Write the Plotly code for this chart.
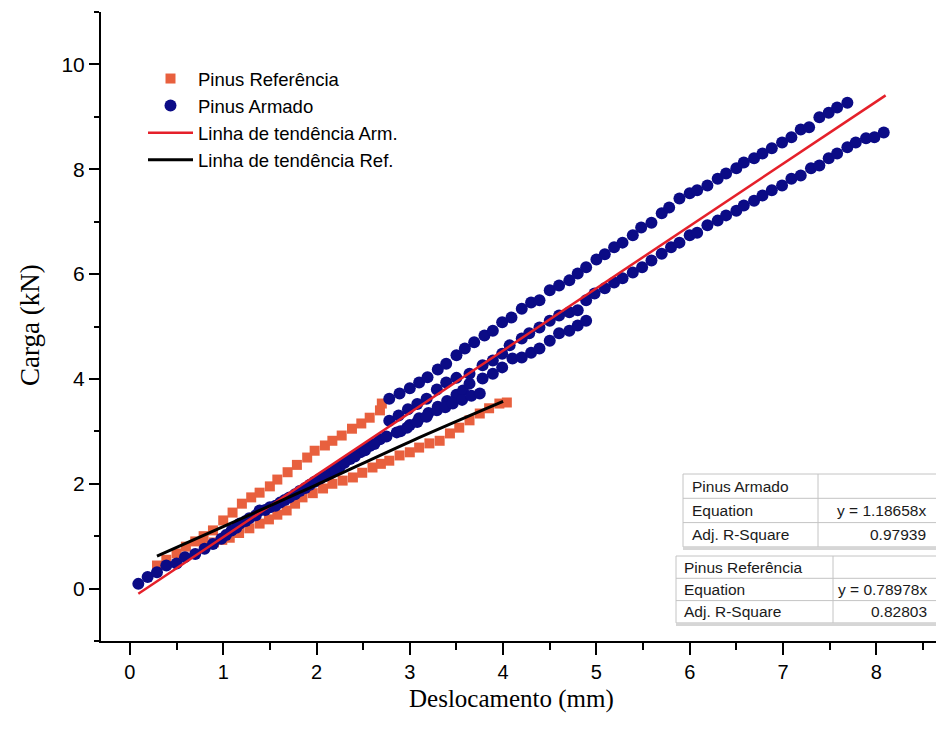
import plotly.graph_objects as go

# ---------------- data ----------------
# Pinus Referência (orange squares) - two loading branches
ref_up_x = [0.29, 0.39, 0.50, 0.60, 0.70, 0.79, 0.89, 1.00, 1.10, 1.20, 1.30, 1.39, 1.50, 1.58,
            1.69, 1.79, 1.90, 1.98, 2.09, 2.17, 2.27, 2.38, 2.48, 2.57, 2.68, 2.70]
ref_up_y = [0.44, 0.55, 0.67, 0.80, 0.90, 1.00, 1.11, 1.30, 1.45, 1.62, 1.74, 1.83, 1.95, 2.08,
            2.22, 2.36, 2.50, 2.63, 2.73, 2.82, 2.92, 3.05, 3.15, 3.26, 3.40, 3.53]
ref_lo_x = [0.80, 0.90, 0.99, 1.07, 1.17, 1.28, 1.39, 1.49, 1.58, 1.68, 1.77, 1.85, 1.96, 2.07,
            2.17, 2.28, 2.39, 2.49, 2.60, 2.69, 2.78, 2.89, 3.00, 3.10, 3.21, 3.32, 3.43, 3.53,
            3.64, 3.75, 3.85, 3.96, 4.04]
ref_lo_y = [0.82, 0.88, 0.93, 0.97, 1.06, 1.15, 1.24, 1.32, 1.41, 1.49, 1.62, 1.74, 1.82, 1.91,
            2.00, 2.06, 2.12, 2.21, 2.31, 2.38, 2.44, 2.54, 2.60, 2.69, 2.77, 2.82, 2.96, 3.07,
            3.21, 3.34, 3.44, 3.53, 3.55]

# Pinus Armado (navy circles) - several branches
arm_a_x = [0.09, 0.19, 0.29, 0.39, 0.50, 0.59, 0.70, 0.80, 0.89, 0.98, 1.09, 1.18, 1.28, 1.39,
           1.50, 1.61, 1.71, 1.82, 1.93, 2.04, 2.15, 2.25, 2.36, 2.47, 2.57, 2.68]
arm_a_y = [0.09, 0.22, 0.31, 0.44, 0.48, 0.60, 0.66, 0.76, 0.85, 0.95, 1.11, 1.24, 1.34, 1.49,
           1.55, 1.64, 1.74, 1.86, 1.98, 2.10, 2.20, 2.33, 2.47, 2.60, 2.72, 2.85]
arm_a2_x = [1.03, 1.14, 1.24, 1.35, 1.45, 1.56, 1.66, 1.77, 1.88, 1.98, 2.09, 2.20, 2.30, 2.41,
            2.52, 2.62]
arm_a2_y = [1.02, 1.16, 1.29, 1.40, 1.50, 1.58, 1.69, 1.80, 1.92, 2.04, 2.15, 2.27, 2.40, 2.52,
            2.64, 2.76]
arm_b_x = [2.78, 2.89, 3.00, 3.10, 3.19, 3.30, 3.39, 3.50, 3.59, 3.69, 3.80, 3.89, 3.99, 4.09,
           4.20, 4.30, 4.39, 4.50, 4.60, 4.71, 4.80, 4.89, 5.00, 5.09, 5.19, 5.28, 5.39, 5.48,
           5.59, 5.70, 5.78, 5.89, 6.00, 6.08, 6.19, 6.30, 6.39, 6.50, 6.58, 6.69, 6.78, 6.88,
           6.99, 7.09, 7.19, 7.28, 7.39, 7.49, 7.58, 7.69]
arm_b_y = [3.62, 3.72, 3.82, 3.93, 4.03, 4.18, 4.29, 4.45, 4.58, 4.70, 4.83, 4.92, 5.08, 5.17,
           5.34, 5.46, 5.50, 5.69, 5.78, 5.88, 6.01, 6.13, 6.28, 6.38, 6.51, 6.60, 6.74, 6.89,
           6.98, 7.16, 7.27, 7.44, 7.54, 7.60, 7.69, 7.82, 7.92, 8.02, 8.13, 8.21, 8.30, 8.40,
           8.51, 8.61, 8.76, 8.80, 8.99, 9.08, 9.18, 9.27]
arm_c_x = [2.78, 2.88, 2.98, 3.08, 3.18, 3.29, 3.39, 3.50, 3.64, 3.78, 3.89, 3.99, 4.07, 4.20,
           4.28, 4.39, 4.50, 4.60, 4.71, 4.80, 4.89, 4.98, 5.09, 5.19, 5.28, 5.39, 5.49, 5.59,
           5.70, 5.80, 5.89, 6.00, 6.08, 6.19, 6.30, 6.39, 6.50, 6.58, 6.69, 6.78, 6.88, 6.99,
           7.09, 7.19, 7.30, 7.39, 7.49, 7.58, 7.69, 7.78, 7.89, 7.98, 8.08]
arm_c_y = [3.20, 3.30, 3.42, 3.52, 3.62, 3.80, 3.93, 4.02, 4.10, 4.26, 4.35, 4.48, 4.64, 4.77,
           4.87, 4.98, 5.11, 5.21, 5.27, 5.31, 5.50, 5.63, 5.73, 5.84, 5.92, 6.03, 6.13, 6.26,
           6.39, 6.51, 6.60, 6.74, 6.79, 6.93, 7.02, 7.12, 7.21, 7.31, 7.40, 7.50, 7.60, 7.69,
           7.82, 7.88, 8.02, 8.07, 8.21, 8.30, 8.42, 8.51, 8.59, 8.61, 8.70]
arm_d_x = [2.90, 3.00, 3.10, 3.20, 3.30, 3.40, 3.50, 3.57, 3.64, 3.78, 3.89, 3.99, 4.10, 4.20,
           4.30, 4.39, 4.50, 4.60, 4.71, 4.80, 4.89]
arm_d_y = [3.00, 3.12, 3.25, 3.35, 3.47, 3.58, 3.70, 3.78, 3.91, 4.01, 4.10, 4.22, 4.39, 4.41,
           4.50, 4.58, 4.73, 4.87, 4.92, 5.02, 5.11]
arm_e_x = [2.75, 2.86, 2.97, 3.08, 3.18, 3.29, 3.38, 3.46, 3.56, 3.66, 3.75]
arm_e_y = [2.90, 2.98, 3.07, 3.18, 3.28, 3.40, 3.46, 3.53, 3.60, 3.68, 3.72]

# trend lines (end points as drawn)
trend_arm_x = [0.09, 8.10]
trend_arm_y = [-0.10, 9.41]
trend_ref_x = [0.29, 1.00, 2.00, 3.00, 4.00]
trend_ref_y = [0.62, 1.18, 1.98, 2.80, 3.57]

x_ticks = [0, 1, 2, 3, 4, 5, 6, 7, 8]
y_ticks = [0, 2, 4, 6, 8, 10]

tab_arm = [["Pinus Armado", ""], ["Equation", "y = 1.18658x"], ["Adj. R-Square", "0.97939"]]
tab_ref = [["Pinus Referência", ""], ["Equation", "y = 0.78978x"], ["Adj. R-Square", "0.82803"]]

# ---------------- figure ----------------
W, H = 936, 733
L, R, T, B = 101, 0, 12, 92

def xp(px):
    return (px - L) / (W - L - R)

def yp(py):
    return (H - B - py) / (H - T - B)

ref_x = ref_up_x + ref_lo_x
ref_y = ref_up_y + ref_lo_y
arm_x = arm_a_x + arm_a2_x + arm_b_x + arm_c_x + arm_d_x + arm_e_x
arm_y = arm_a_y + arm_a2_y + arm_b_y + arm_c_y + arm_d_y + arm_e_y

fig = go.Figure()
fig.add_trace(go.Scatter(x=ref_x, y=ref_y, mode="markers", name="Pinus Referência",
                         marker=dict(symbol="square", size=10, color="#E8603E", line=dict(width=0))))
fig.add_trace(go.Scatter(x=arm_x, y=arm_y, mode="markers", name="Pinus Armado",
                         marker=dict(symbol="circle", size=12, color="#0B0B86", line=dict(width=0))))
fig.add_trace(go.Scatter(x=trend_arm_x, y=trend_arm_y, mode="lines", name="Linha de tendência Arm.",
                         line=dict(color="#E5202A", width=2.5)))
fig.add_trace(go.Scatter(x=trend_ref_x, y=trend_ref_y, mode="lines", name="Linha de tendência Ref.",
                         line=dict(color="black", width=3, shape="spline")))

xfont = dict(family="Liberation Sans, Arial", size=20, color="black")
yfont = dict(family="Liberation Sans, Arial", size=21, color="black")
fig.update_xaxes(range=[-0.31, 8.64], showline=True, linewidth=2, linecolor="black",
                 ticks="outside", ticklen=12, tickwidth=2, tickcolor="black",
                 tickvals=x_ticks, ticktext=[str(v) for v in x_ticks],
                 minor=dict(ticks="outside", ticklen=7, tickwidth=2, tickcolor="black", dtick=0.5, tick0=0),
                 showgrid=False, zeroline=False, tickfont=xfont, mirror=False)
fig.update_yaxes(range=[-1, 11], showline=True, linewidth=2, linecolor="black",
                 ticks="outside", ticklen=10, tickwidth=2, tickcolor="black",
                 tickvals=y_ticks, ticktext=[str(v) for v in y_ticks],
                 minor=dict(ticks="outside", ticklen=5, tickwidth=2, tickcolor="black", dtick=1, tick0=0),
                 showgrid=False, zeroline=False, tickfont=yfont, mirror=False)

shapes = []
annotations = []

def add_table(rows, left, right, top, row_h, col_x, text_left, text_right):
    bottom = top + row_h * len(rows)
    shapes.append(dict(type="rect", xref="paper", yref="paper", x0=xp(left), x1=xp(right),
                       y0=yp(bottom), y1=yp(top), fillcolor="white",
                       line=dict(color="#C4C4C4", width=1), layer="above"))
    shapes.append(dict(type="line", xref="paper", yref="paper", x0=xp(left), x1=xp(right),
                       y0=yp(bottom + 1.5), y1=yp(bottom + 1.5),
                       line=dict(color="#D6D6D6", width=3), layer="above"))
    for i in range(1, len(rows)):
        yy = top + row_h * i
        shapes.append(dict(type="line", xref="paper", yref="paper", x0=xp(left), x1=xp(right),
                           y0=yp(yy), y1=yp(yy), line=dict(color="#C4C4C4", width=1), layer="above"))
    shapes.append(dict(type="line", xref="paper", yref="paper", x0=xp(col_x), x1=xp(col_x),
                       y0=yp(bottom), y1=yp(top), line=dict(color="#C4C4C4", width=1), layer="above"))
    for i, (a, b) in enumerate(rows):
        yc = top + row_h * (i + 0.5)
        annotations.append(dict(text=a, xref="paper", yref="paper", x=xp(text_left), y=yp(yc),
                                xanchor="left", yanchor="middle", showarrow=False,
                                font=dict(family="Liberation Sans, Arial", size=15.5, color="#1A1A1A")))
        if b:
            annotations.append(dict(text=b, xref="paper", yref="paper", x=xp(text_right), y=yp(yc),
                                    xanchor="right", yanchor="middle", showarrow=False,
                                    font=dict(family="Liberation Sans, Arial", size=15.5, color="#1A1A1A")))

add_table(tab_arm, 683, 945, 474, 24.3, 818, 690, 928)
add_table(tab_ref, 676, 945, 556, 22.3, 833, 682, 929)

annotations.append(dict(text="Carga (kN)", xref="paper", yref="paper", x=xp(30), y=yp(325),
                        xanchor="center", yanchor="middle", showarrow=False, textangle=-90,
                        font=dict(family="Liberation Serif, Times New Roman", size=27, color="black")))
annotations.append(dict(text="Deslocamento (mm)", xref="paper", yref="paper", x=xp(511), y=yp(699),
                        xanchor="center", yanchor="middle", showarrow=False,
                        font=dict(family="Liberation Serif, Times New Roman", size=25, color="black")))

fig.update_layout(
    width=W, height=H,
    margin=dict(l=L, r=R, t=T, b=B, pad=0),
    paper_bgcolor="white", plot_bgcolor="white",
    showlegend=True,
    legend=dict(x=xp(143), y=yp(60), xanchor="left", yanchor="top",
                bgcolor="rgba(0,0,0,0)", borderwidth=0,
                font=dict(family="Liberation Sans, Arial", size=18.5, color="black"),
                tracegroupgap=0, itemsizing="trace", itemwidth=45),
    shapes=shapes, annotations=annotations,
)

fig.write_html("out.html")
